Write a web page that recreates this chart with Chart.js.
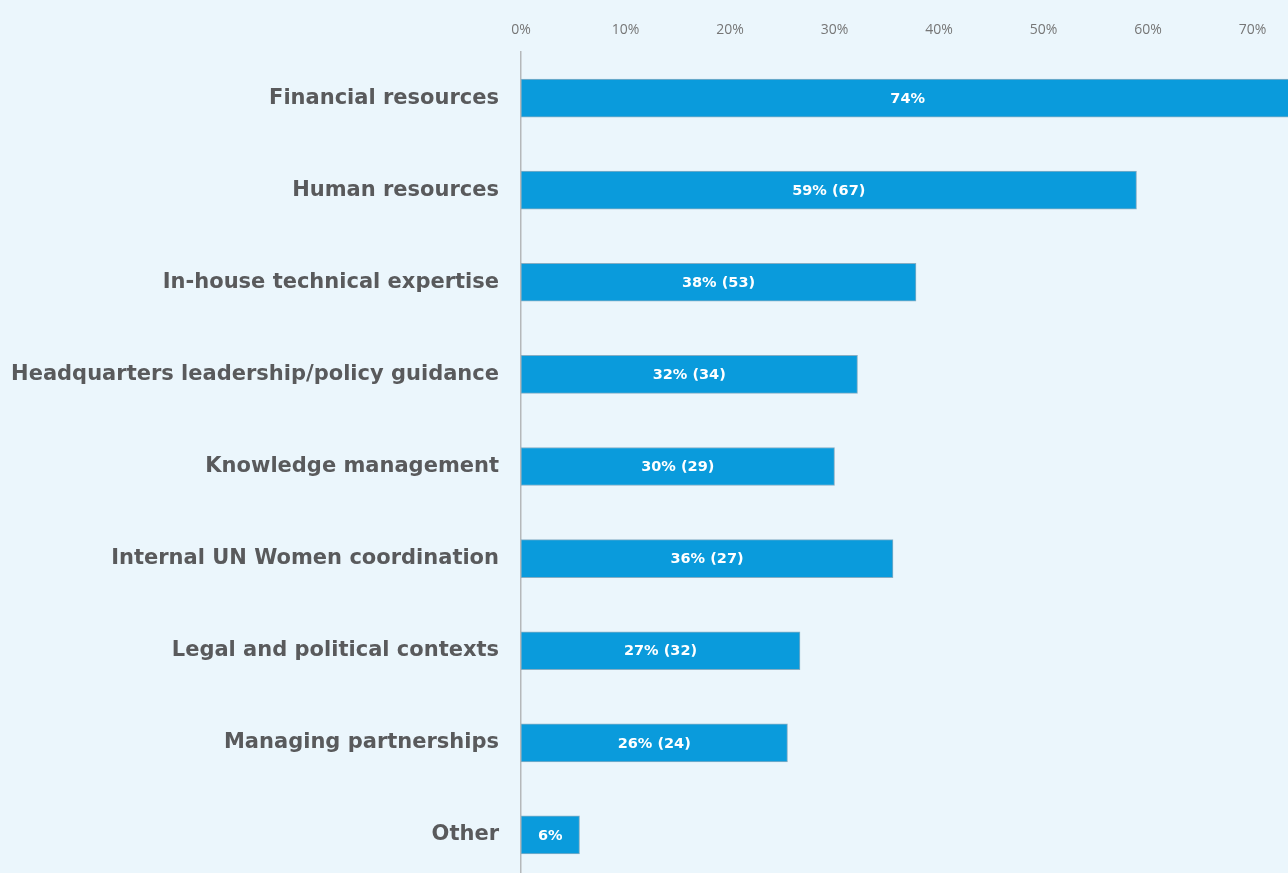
<!DOCTYPE html>
<html>
<head>
<meta charset="utf-8">
<script src="https://cdn.jsdelivr.net/npm/chart.js@4/dist/chart.umd.min.js"></script>
<style>
  html, body { margin: 0; padding: 0; background: #ebf6fc; overflow: hidden; }
  canvas { display: block; }
</style>
</head>
<body>
<canvas id="barChart" width="1357" height="881"></canvas>
<script>
// chart data
const categories = [
    'Financial resources',
    'Human resources',
    'In-house technical expertise',
    'Headquarters leadership/policy guidance',
    'Knowledge management',
    'Internal UN Women coordination',
    'Legal and political contexts',
    'Managing partnerships',
    'Other'
];
const shares = [74, 58.9, 37.8, 32.2, 30.0, 35.6, 26.7, 25.5, 5.6];
const barLabels = ['74%', '59% (67)', '38% (53)', '32% (34)', '30% (29)', '36% (27)', '27% (32)', '26% (24)', '6%'];
const tickValues = [0, 10, 20, 30, 40, 50, 60, 70];

// write the value text in the middle of each bar
const barText = {
    id: 'barText',
    afterDatasetsDraw(chart) {
        const ctx = chart.ctx;
        const meta = chart.getDatasetMeta(0);
        ctx.save();
        ctx.fillStyle = '#ffffff';
        ctx.font = 'bold 14.5px "DejaVu Sans"';
        ctx.textAlign = 'center';
        ctx.textBaseline = 'middle';
        meta.data.forEach((bar, i) => {
            const mid = (bar.x + bar.base) / 2;
            ctx.fillText(barLabels[i], mid, bar.y + 1);
        });
        ctx.restore();
    }
};

const ctx = document.getElementById('barChart').getContext('2d');
new Chart(ctx, {
    type: 'bar',
    data: {
        labels: categories,
        datasets: [{
            data: shares,
            backgroundColor: '#0a9bdc',
            borderColor: '#86aec4',
            borderWidth: 1,
            borderSkipped: false,
            barThickness: 38
        }]
    },
    options: {
        indexAxis: 'y',
        responsive: false,
        animation: false,
        layout: { padding: 0 },
        plugins: {
            legend: { display: false },
            tooltip: { enabled: false }
        },
        scales: {
            x: {
                position: 'top',
                min: 0,
                max: 80,
                grid: { display: false, drawTicks: false },
                border: { display: false },
                afterBuildTicks(scale) {
                    scale.ticks = tickValues.map(v => ({ value: v }));
                },
                afterFit(scale) { scale.height = 52; },
                ticks: {
                    padding: 14,
                    color: '#767676',
                    font: { family: '"Open Sans"', size: 14 },
                    callback: v => v + '%'
                }
            },
            y: {
                grid: { display: false, drawTicks: false },
                border: { display: true, color: '#b5b8ba', width: 1.5 },
                afterFit(scale) {
                    scale.width = 521;
                    // no extra room above/below for the label padding
                    scale.paddingTop = 0;
                    scale.paddingBottom = 0;
                },
                ticks: {
                    padding: 22,
                    color: '#595a5c',
                    font: { family: '"DejaVu Sans"', size: 21, weight: 'bold' }
                }
            }
        }
    },
    plugins: [barText]
});
</script>
</body>
</html>
